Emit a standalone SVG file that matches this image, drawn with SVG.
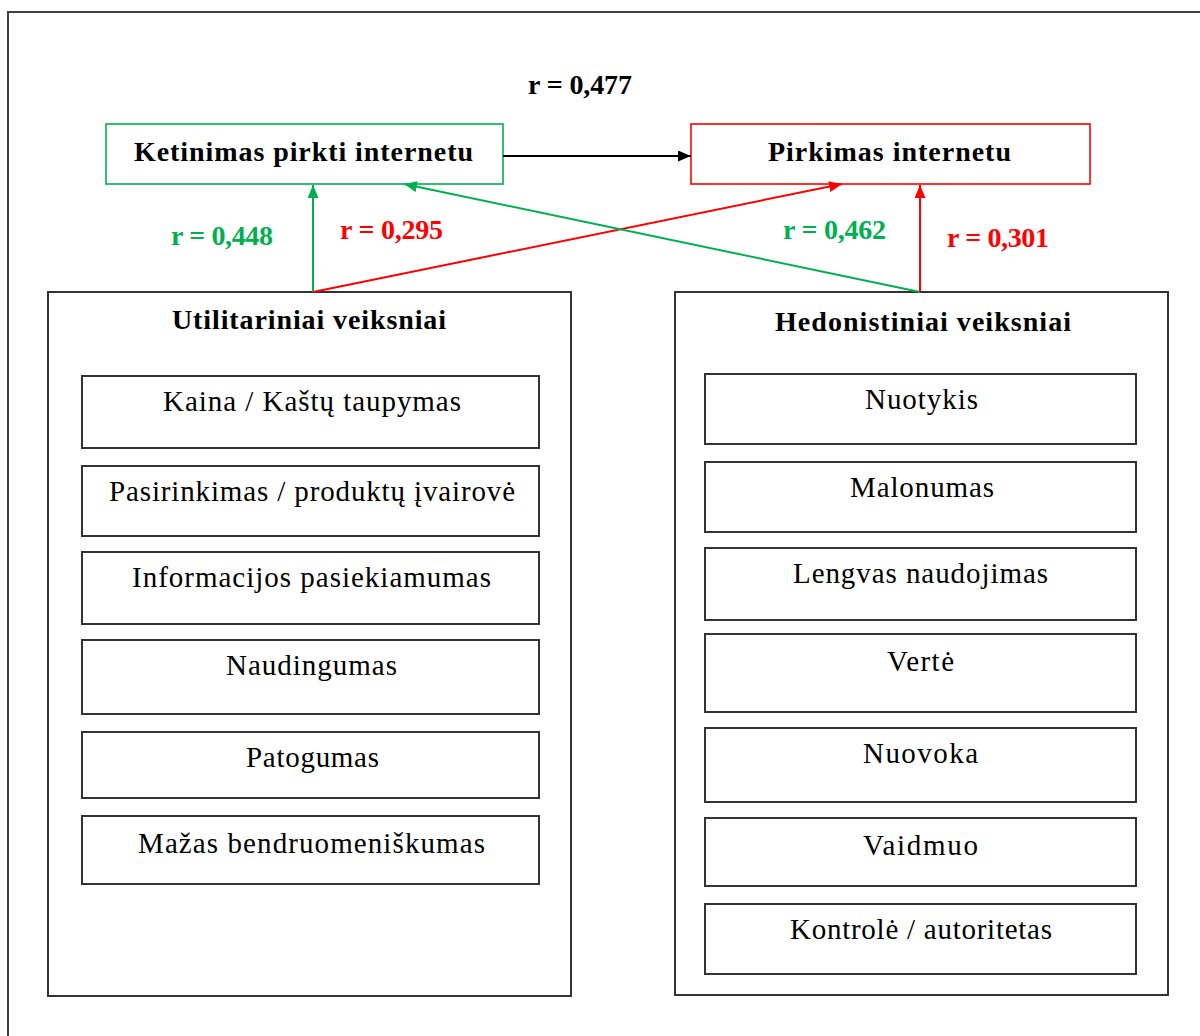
<svg xmlns="http://www.w3.org/2000/svg" width="1200" height="1036" viewBox="0 0 1200 1036">
  <defs>
    <style>
      .frame { fill: #ffffff; stroke: #404040; stroke-width: 2; }
      .box { fill: #ffffff; stroke: #333333; stroke-width: 2; }
      .goal-g { fill: #ffffff; stroke: #00b050; stroke-width: 1.6; }
      .goal-r { fill: #ffffff; stroke: #ff0000; stroke-width: 1.6; }
      .t { font-family: "Liberation Serif", "Times New Roman", serif; fill: #000000; text-anchor: middle; }
      .item { font-size: 29px; }
      .title { font-size: 28px; font-weight: bold; }
      .r { font-size: 28px; font-weight: bold; }
      .green { fill: #00b050; }
      .red { fill: #ff0000; }
      .ln-k { stroke: #000000; stroke-width: 2; fill: none; }
      .ln-g { stroke: #00b050; stroke-width: 2; fill: none; }
      .ln-r { stroke: #ff0000; stroke-width: 2; fill: none; }
    </style>
    <marker id="ah-k" viewBox="0 0 13 11" refX="13" refY="5.5" markerWidth="13" markerHeight="11" markerUnits="userSpaceOnUse" orient="auto">
      <path d="M0,0 L13,5.5 L0,11 Z" fill="#000000"/>
    </marker>
    <marker id="ah-g" viewBox="0 0 13 11" refX="13" refY="5.5" markerWidth="13" markerHeight="11" markerUnits="userSpaceOnUse" orient="auto">
      <path d="M0,0 L13,5.5 L0,11 Z" fill="#00b050"/>
    </marker>
    <marker id="ah-r" viewBox="0 0 13 11" refX="13" refY="5.5" markerWidth="13" markerHeight="11" markerUnits="userSpaceOnUse" orient="auto">
      <path d="M0,0 L13,5.5 L0,11 Z" fill="#ff0000"/>
    </marker>
  </defs>

  <rect width="1200" height="1036" fill="#ffffff"/>
  <!-- outer page frame -->
  <rect class="frame" x="8" y="12" width="1200" height="1040"/>

  <!-- intention to buy online -->
  <g id="ketinimas">
    <rect class="goal-g" x="106" y="124" width="397" height="60"/>
    <text class="t title" x="303.5" y="161" textLength="339" lengthAdjust="spacing">Ketinimas pirkti internetu</text>
  </g>

  <!-- buying online -->
  <g id="pirkimas">
    <rect class="goal-r" x="691" y="124" width="399" height="60"/>
    <text class="t title" x="889.5" y="161" textLength="243" lengthAdjust="spacing">Pirkimas internetu</text>
  </g>

  <!-- utilitarian factors -->
  <g id="utilitariniai">
    <rect class="box" x="48" y="292" width="523" height="704"/>
    <text class="t title" x="309" y="329" textLength="274" lengthAdjust="spacing">Utilitariniai veiksniai</text>
    <g id="u-kaina">
      <rect class="box" x="82" y="376" width="457" height="72"/>
      <text class="t item" x="312" y="411" textLength="298" lengthAdjust="spacing">Kaina / Kaštų taupymas</text>
    </g>
    <g id="u-pasirinkimas">
      <rect class="box" x="82" y="466" width="457" height="70"/>
      <text class="t item" x="312" y="501" textLength="406" lengthAdjust="spacing">Pasirinkimas / produktų įvairovė</text>
    </g>
    <g id="u-informacija">
      <rect class="box" x="82" y="552" width="457" height="72"/>
      <text class="t item" x="311.5" y="587" textLength="359" lengthAdjust="spacing">Informacijos pasiekiamumas</text>
    </g>
    <g id="u-naudingumas">
      <rect class="box" x="82" y="640" width="457" height="74"/>
      <text class="t item" x="311.5" y="675" textLength="171" lengthAdjust="spacing">Naudingumas</text>
    </g>
    <g id="u-patogumas">
      <rect class="box" x="82" y="732" width="457" height="66"/>
      <text class="t item" x="312.5" y="767" textLength="133" lengthAdjust="spacing">Patogumas</text>
    </g>
    <g id="u-bendruomeniskumas">
      <rect class="box" x="82" y="816" width="457" height="68"/>
      <text class="t item" x="311.5" y="853" textLength="347" lengthAdjust="spacing">Mažas bendruomeniškumas</text>
    </g>
  </g>

  <!-- hedonic factors -->
  <g id="hedonistiniai">
    <rect class="box" x="675" y="292" width="493" height="703"/>
    <text class="t title" x="923" y="331" textLength="296" lengthAdjust="spacing">Hedonistiniai veiksniai</text>
    <g id="h-nuotykis">
      <rect class="box" x="705" y="374" width="431" height="70"/>
      <text class="t item" x="921.5" y="409" textLength="113" lengthAdjust="spacing">Nuotykis</text>
    </g>
    <g id="h-malonumas">
      <rect class="box" x="705" y="462" width="431" height="70"/>
      <text class="t item" x="922" y="497" textLength="144" lengthAdjust="spacing">Malonumas</text>
    </g>
    <g id="h-lengvas">
      <rect class="box" x="705" y="548" width="431" height="72"/>
      <text class="t item" x="920.5" y="583" textLength="255" lengthAdjust="spacing">Lengvas naudojimas</text>
    </g>
    <g id="h-verte">
      <rect class="box" x="705" y="634" width="431" height="78"/>
      <text class="t item" x="920.5" y="671" textLength="67" lengthAdjust="spacing">Vertė</text>
    </g>
    <g id="h-nuovoka">
      <rect class="box" x="705" y="728" width="431" height="74"/>
      <text class="t item" x="920.5" y="763" textLength="115" lengthAdjust="spacing">Nuovoka</text>
    </g>
    <g id="h-vaidmuo">
      <rect class="box" x="705" y="818" width="431" height="68"/>
      <text class="t item" x="920.5" y="855" textLength="115" lengthAdjust="spacing">Vaidmuo</text>
    </g>
    <g id="h-kontrole">
      <rect class="box" x="705" y="904" width="431" height="70"/>
      <text class="t item" x="921" y="939" textLength="262" lengthAdjust="spacing">Kontrolė / autoritetas</text>
    </g>
  </g>

  <!-- connectors -->
  <g id="connectors">
    <line class="ln-k" x1="503" y1="156" x2="691" y2="156" marker-end="url(#ah-k)"/>
    <line class="ln-g" x1="313" y1="292" x2="313" y2="185" marker-end="url(#ah-g)"/>
    <line class="ln-r" x1="313" y1="292" x2="842" y2="184" marker-end="url(#ah-r)"/>
    <line class="ln-g" x1="920" y1="292" x2="404" y2="184" marker-end="url(#ah-g)"/>
    <line class="ln-r" x1="920" y1="292" x2="920" y2="185" marker-end="url(#ah-r)"/>
  </g>

  <!-- correlation labels -->
  <g id="labels">
    <text class="t r" x="580" y="94" textLength="104" lengthAdjust="spacing">r = 0,477</text>
    <text class="t r green" x="222" y="245" textLength="102" lengthAdjust="spacing">r = 0,448</text>
    <text class="t r red" x="391.5" y="239" textLength="103" lengthAdjust="spacing">r = 0,295</text>
    <text class="t r green" x="834.5" y="239" textLength="103" lengthAdjust="spacing">r = 0,462</text>
    <text class="t r red" x="998" y="247" textLength="102" lengthAdjust="spacing">r = 0,301</text>
  </g>
</svg>
